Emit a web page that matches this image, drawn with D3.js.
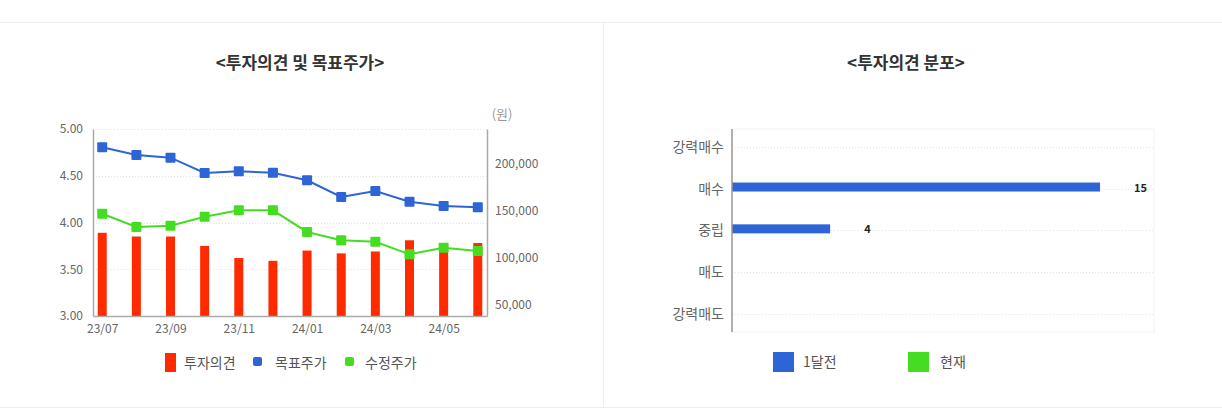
<!DOCTYPE html>
<html>
<head>
<meta charset="utf-8">
<script src="https://cdn.jsdelivr.net/npm/d3@7"></script>
<style>
  body { margin: 0; background: #fff; font-family: "Noto Sans CJK KR", "Noto Sans", sans-serif; }
  svg text { font-family: "Noto Sans CJK KR", "Noto Sans", sans-serif; }
</style>
</head>
<body>
<svg id="chart" width="1222" height="420"></svg>
<script>
const months = ['23/07', '23/08', '23/09', '23/10', '23/11', '23/12', '24/01', '24/02', '24/03', '24/04', '24/05', '24/06'];
const monthTicks = ['23/07', '23/09', '23/11', '24/01', '24/03', '24/05'];
const opinion = [3.89, 3.85, 3.85, 3.75, 3.62, 3.59, 3.70, 3.67, 3.69, 3.81, 3.72, 3.78];
const targetPrice = [217800, 209600, 206700, 190400, 192200, 190700, 182700, 164900, 171300, 159900, 155300, 153900];
const adjPrice = [147100, 133000, 134400, 143900, 150700, 150700, 127700, 118800, 117300, 103900, 111000, 107400];
const leftTicks = [3.0, 3.5, 4.0, 4.5, 5.0];
const rightTicks = [50000, 100000, 150000, 200000];

const ratingCats = ['강력매수', '매수', '중립', '매도', '강력매도'];
const monthAgo = [0, 15, 4, 0, 0];
const current = [0, 0, 0, 0, 0];

const svg = d3.select('#chart');
const gray = '#666';

// frame lines
svg.append('line').attr('x1', 0).attr('x2', 1222).attr('y1', 22.5).attr('y2', 22.5).attr('stroke', '#eee');
svg.append('line').attr('x1', 0).attr('x2', 1222).attr('y1', 407.5).attr('y2', 407.5).attr('stroke', '#eee');
svg.append('line').attr('x1', 603.5).attr('x2', 603.5).attr('y1', 22).attr('y2', 407).attr('stroke', '#eee');

svg.append('text').attr('x', 300).attr('y', 69).attr('text-anchor', 'middle')
  .attr('font-size', 17).attr('font-weight', 'bold').attr('fill', '#333').text('<투자의견 및 목표주가>');
svg.append('text').attr('x', 906).attr('y', 69).attr('text-anchor', 'middle')
  .attr('font-size', 17).attr('font-weight', 'bold').attr('fill', '#333').text('<투자의견 분포>');

// ---- left chart
const L = { left: 93, right: 487, top: 129, bottom: 316 };
const x = d3.scalePoint().domain(months).range([L.left, L.right]).padding(0.27);
const yL = d3.scaleLinear().domain([3, 5]).range([L.bottom, L.top]);
const yR = d3.scaleLinear().domain([38300, 237200]).range([L.bottom, L.top]);

const left = svg.append('g');
left.selectAll('.grid').data(leftTicks.slice(1)).enter().append('line')
  .attr('x1', L.left).attr('x2', L.right)
  .attr('y1', d => Math.round(yL(d)) + 0.5).attr('y2', d => Math.round(yL(d)) + 0.5)
  .attr('stroke', '#e4e4e4').attr('stroke-dasharray', '1,2');

left.selectAll('.bar').data(opinion).enter().append('rect')
  .attr('x', (d, i) => x(months[i]) - 4.5).attr('width', 9)
  .attr('y', d => yL(d)).attr('height', d => L.bottom - yL(d))
  .attr('fill', '#ff2a00');

const line = (yS) => d3.line().x((d, i) => x(months[i])).y(d => yS(d));
[[targetPrice, '#2d64d6'], [adjPrice, '#44dd22']].forEach(([data, c]) => {
  left.append('path').datum(data).attr('d', line(yR)).attr('fill', 'none').attr('stroke', c).attr('stroke-width', 2);
  left.selectAll(null).data(data).enter().append('rect')
    .attr('x', (d, i) => x(months[i]) - 5).attr('y', d => yR(d) - 5)
    .attr('width', 10).attr('height', 10).attr('rx', 1).attr('fill', c);
});

const axL = left.append('g').attr('transform', `translate(${L.left},0)`)
  .call(d3.axisLeft(yL).tickValues(leftTicks).tickFormat(d3.format('.2f')).tickSize(0).tickPadding(10));
const axR = left.append('g').attr('transform', `translate(${L.right},0)`)
  .call(d3.axisRight(yR).tickValues(rightTicks).tickFormat(d3.format(',')).tickSize(0).tickPadding(8));
const axB = left.append('g').attr('transform', `translate(0,${L.bottom})`)
  .call(d3.axisBottom(x).tickValues(monthTicks).tickSize(0).tickPadding(8));
[axL, axR, axB].forEach(a => {
  a.select('.domain').attr('stroke', '#aaa').attr('stroke-width', 1.5);
  a.selectAll('text').attr('fill', gray).attr('font-size', 12);
});
left.append('text').attr('x', 502).attr('y', 119).attr('text-anchor', 'middle')
  .attr('fill', '#999').attr('font-size', 13).text('(원)');

// left legend
const lg = svg.append('g').attr('font-size', 14).attr('fill', '#555');
lg.append('rect').attr('x', 165).attr('y', 353).attr('width', 11).attr('height', 19).attr('fill', '#ff2a00');
lg.append('text').attr('x', 184).attr('y', 368).attr('fill', '#555').text('투자의견');
lg.append('rect').attr('x', 253).attr('y', 357).attr('width', 9).attr('height', 9).attr('rx', 2).attr('fill', '#2d64d6');
lg.append('text').attr('x', 275).attr('y', 368).attr('fill', '#555').text('목표주가');
lg.append('rect').attr('x', 345).attr('y', 357).attr('width', 9).attr('height', 9).attr('rx', 2).attr('fill', '#44dd22');
lg.append('text').attr('x', 365).attr('y', 368).attr('fill', '#555').text('수정주가');

// ---- right chart
const R = { left: 732, right: 1154, top: 129, bottom: 332 };
const yC = d3.scalePoint().domain(ratingCats).range([146.7, 314]);
const xC = d3.scaleLinear().domain([0, 17.2]).range([R.left, R.right]);

const right = svg.append('g');
right.append('rect').attr('x', R.left).attr('y', R.top).attr('width', R.right - R.left).attr('height', R.bottom - R.top)
  .attr('fill', 'none').attr('stroke', '#f2f2f2');
right.selectAll('.grid').data(ratingCats).enter().append('line')
  .attr('x1', R.left).attr('x2', R.right)
  .attr('y1', d => Math.round(yC(d)) + 0.5).attr('y2', d => Math.round(yC(d)) + 0.5)
  .attr('stroke', '#e4e4e4').attr('stroke-dasharray', '1,2');

const rows = ratingCats.map((c, i) => ({ c, a: monthAgo[i], b: current[i] }));
right.selectAll('.ba').data(rows.filter(r => r.a > 0)).enter().append('rect')
  .attr('x', R.left).attr('y', d => yC(d.c) - 6).attr('height', 9)
  .attr('width', d => xC(d.a) - R.left).attr('fill', '#2d64d6');
right.selectAll('.bb').data(rows.filter(r => r.b > 0)).enter().append('rect')
  .attr('x', R.left).attr('y', d => yC(d.c) + 3).attr('height', 9)
  .attr('width', d => xC(d.b) - R.left).attr('fill', '#44dd22');
right.selectAll('.lab').data(rows.filter(r => r.a > 0)).enter().append('text')
  .attr('x', d => xC(d.a) + 34).attr('y', d => yC(d.c) + 3)
  .attr('font-size', 11).attr('font-weight', 'bold').attr('fill', '#222').text(d => d.a);

const axC = right.append('g').attr('transform', `translate(${R.left},0)`)
  .call(d3.axisLeft(yC).tickSize(0).tickPadding(8));
axC.select('.domain').attr('stroke', '#999').attr('stroke-width', 1.5)
  .attr('d', `M0,${R.top}V${R.bottom}`);
axC.selectAll('text').attr('fill', gray).attr('font-size', 14);

const rg = svg.append('g');
rg.append('rect').attr('x', 773).attr('y', 352).attr('width', 21).attr('height', 20).attr('fill', '#2d64d6');
rg.append('text').attr('x', 803).attr('y', 367).attr('font-size', 14).attr('fill', '#555').text('1달전');
rg.append('rect').attr('x', 908).attr('y', 352).attr('width', 21).attr('height', 20).attr('fill', '#44dd22');
rg.append('text').attr('x', 940).attr('y', 367).attr('font-size', 14).attr('fill', '#555').text('현재');
</script>
</body>
</html>
